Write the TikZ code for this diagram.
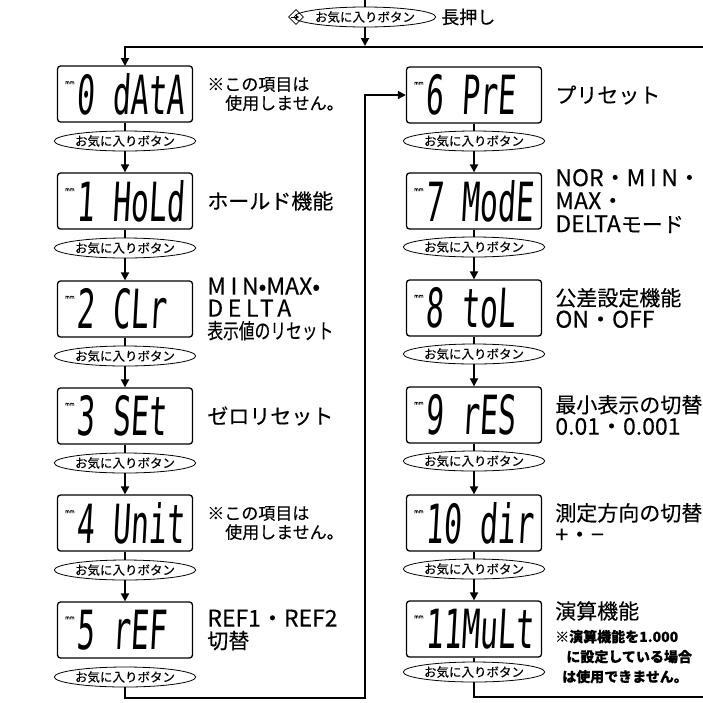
\documentclass[tikz,border=0pt]{standalone}
\usepackage{fontspec}
\setmainfont{Noto Sans CJK JP}[FakeBold=0.25]
\newfontfamily\segfont{DejaVu Sans Mono}[FakeSlant=0.1,WordSpace={1,0,0}]
\usetikzlibrary{arrows.meta,shapes.geometric,positioning}

\newcommand{\segtext}[1]{\raisebox{30pt}{\fontsize{5}{5}\selectfont mm}\hspace{2pt}%
  \scalebox{1}[1.8]{\segfont\fontsize{30}{30}\selectfont #1}}
\newcommand{\wide}[1]{{\addfontfeature{LetterSpace=20}#1}}
\newcommand{\lat}[1]{{\fontsize{23}{23}\selectfont #1}}

\tikzset{
  disp/.style={draw, rounded corners=3pt, line width=1.3pt, minimum width=135pt,
    minimum height=56pt, inner sep=0pt},
  btn/.style={draw, ellipse, line width=0.8pt, minimum width=112pt, minimum height=20pt,
    inner sep=0pt, font=\fontsize{12.5}{12.5}\selectfont},
  lbl/.style={align=left, inner sep=0pt, font=\fontsize{21}{22}\selectfont},
  note/.style={lbl, font=\fontsize{17}{19}\selectfont},
  line/.style={line width=1.8pt},
  arr/.style={-{Triangle[length=8pt,width=8pt]}}
}

\begin{document}
\begin{tikzpicture}[x=1pt, y=-1pt]
    \useasboundingbox (0,0) rectangle (703,702);

    % long press
    \coordinate (top0) at (365,0);
    \node[btn] (lp) at (365,17) {お気に入りボタン};
    \node[lbl, font=\fontsize{18}{18}\selectfont, right=5pt of lp] (lpt) {長押し};
    \node[draw, diamond, line width=0.8pt, minimum width=15pt, minimum height=15pt,
      inner sep=0pt] (key) at (296,17) {};
    \draw[line width=1pt, -{Triangle[length=3pt,width=4pt]}] ([xshift=-5pt]key.center) -- ([xshift=3pt]key.center);
    \coordinate (jt) at (365,46);
    \coordinate (rtop) at (703,47);
    \draw[line] (top0) -- (lp.north);
    \draw[line, arr] (lp.south) -- (jt);
    \draw[line, arr] (rtop) -| (125,66);

    % left column
    \node[disp] (d0) at (125,94) {\segtext{0~dAtA}};
    \node[btn] (b0) at (125,141) {お気に入りボタン};
    \node[disp] (d1) at (125,201) {\segtext{1~HoLd}};
    \node[btn] (b1) at (125,248) {お気に入りボタン};
    \node[disp] (d2) at (125,309) {\segtext{2~CLr~}};
    \node[btn] (b2) at (125,356) {お気に入りボタン};
    \node[disp] (d3) at (125,416) {\segtext{3~SEt~}};
    \node[btn] (b3) at (125,463) {お気に入りボタン};
    \node[disp] (d4) at (125,523) {\segtext{4~Unit}};
    \node[btn] (b4) at (125,570) {お気に入りボタン};
    \node[disp] (d5) at (125,630) {\segtext{5~rEF~}};
    \node[btn] (b5) at (125,677) {お気に入りボタン};

    \node[note, right=14pt of d0] (t0) {※この項目は\\\hspace*{1.05em}使用しません。};
    \node[lbl, right=14pt of d1] (t1) {ホールド機能};
    \node[lbl, font=\fontsize{21}{22}\selectfont, right=14pt of d2] (t2)
      {\lat{\wide{MIN}•MAX•}\\\lat{\wide{DELTA}}\\\scalebox{0.75}[1]{表示値のリセット}};
    \node[lbl, right=14pt of d3] (t3) {ゼロリセット};
    \node[note, right=14pt of d4] (t4) {※この項目は\\\hspace*{1.05em}使用しません。};
    \node[lbl, right=14pt of d5] (t5) {\lat{REF1・REF2}\\切替};

    % right column
    \node[disp] (d6) at (474,95) {\segtext{6~PrE~}};
    \node[btn] (b6) at (474,141) {お気に入りボタン};
    \node[disp] (d7) at (474,201) {\segtext{7~ModE}};
    \node[btn] (b7) at (474,247) {お気に入りボタン};
    \node[disp] (d8) at (474,308) {\segtext{8~toL~}};
    \node[btn] (b8) at (474,354) {お気に入りボタン};
    \node[disp] (d9) at (474,415) {\segtext{9~rES~}};
    \node[btn] (b9) at (474,461) {お気に入りボタン};
    \node[disp] (d10) at (474,523) {\segtext{10~dir}};
    \node[btn] (b10) at (474,569) {お気に入りボタン};
    \node[disp] (d11) at (474,629) {\segtext{11MuLt}};
    \node[btn] (b11) at (474,672) {お気に入りボタン};

    \node[lbl, right=13pt of d6] (t6) {プリセット};
    \node[lbl, font=\fontsize{21}{23}\selectfont, right=13pt of d7] (t7)
      {\lat{NOR・\wide{MIN}・}\\\lat{MAX・}\\\lat{DELTA}モード};
    \node[lbl, right=13pt of d8] (t8) {公差設定機能\\\lat{ON・OFF}};
    \node[lbl, right=13pt of d9] (t9) {最小表示の切替\\\lat{0.01・0.001}};
    \node[lbl, right=13pt of d10] (t10) {測定方向の切替\\\lat{+・−}};
    \node[lbl, anchor=north west, font=\fontsize{14}{20}\selectfont\bfseries] (t11) at (555,601)
      {{\mdseries\fontsize{21}{21}\selectfont 演算機能}\\[3pt]
       ※演算機能を1.000\\\hspace*{0.8em}に設定している場合\\\hspace*{0.5em}は使用できません。};

    % connectors
    \draw[line] (d0) -- (b0);
    \draw[line, arr] (b0) -- (d1);
    \draw[line] (d1) -- (b1);
    \draw[line, arr] (b1) -- (d2);
    \draw[line] (d2) -- (b2);
    \draw[line, arr] (b2) -- (d3);
    \draw[line] (d3) -- (b3);
    \draw[line, arr] (b3) -- (d4);
    \draw[line] (d4) -- (b4);
    \draw[line, arr] (b4) -- (d5);
    \coordinate (jl) at (365,698);
    \draw[line, arr] (b5.south) |- (jl) |- (d6.west);

    \draw[line] (d6) -- (b6);
    \draw[line, arr] (b6) -- (d7);
    \draw[line] (d7) -- (b7);
    \draw[line, arr] (b7) -- (d8);
    \draw[line] (d8) -- (b8);
    \draw[line, arr] (b8) -- (d9);
    \draw[line] (d9) -- (b9);
    \draw[line, arr] (b9) -- (d10);
    \draw[line] (d10) -- (b10);
    \draw[line, arr] (b10) -- (d11);
    \draw[line] (d11) -- (b11);
    \coordinate (rbot) at (703,697);
    \draw[line] (b11.south) |- (rbot);
\end{tikzpicture}
\end{document}
